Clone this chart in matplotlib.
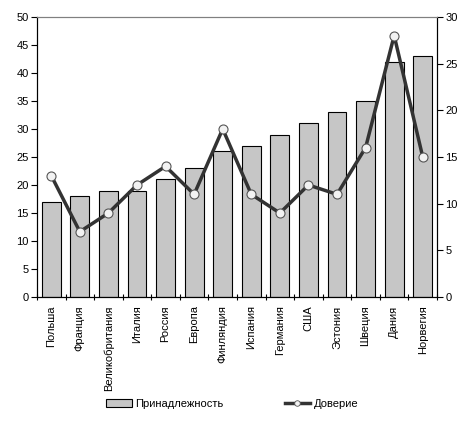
import numpy as np
import matplotlib.pyplot as plt
from matplotlib.patches import Patch
from matplotlib.lines import Line2D

plt.rcParams['font.family'] = ['Liberation Sans', 'DejaVu Sans']
plt.rcParams['font.size'] = 8

# данные
countries = ['Польша', 'Франция', 'Великобритания', 'Италия', 'Россия', 'Европа',
             'Финляндия', 'Испания', 'Германия', 'США', 'Эстония', 'Швеция',
             'Дания', 'Норвегия']
belonging = [17, 18, 19, 19, 21, 23, 26, 27, 29, 31, 33, 35, 42, 43]
trust = [13, 7, 9, 12, 14, 11, 18, 11, 9, 12, 11, 16, 28, 15]

x = np.arange(len(countries))

fig = plt.figure(figsize=(4.74, 4.22), dpi=100)
ax = fig.add_axes([0.078, 0.296, 0.844, 0.664])
ax.bar(x, belonging, width=0.66, color='#c6c6c6', edgecolor='black', linewidth=0.8, zorder=2)
ax.set_xlim(-0.5, len(countries) - 0.5)
ax.set_ylim(0, 50)
ax.set_yticks(range(0, 51, 5))
ax.set_xticks(x)
ax.set_xticklabels(countries, rotation=90)
ax.tick_params(axis='x', length=0, pad=6)
ax.set_xticks(np.arange(-0.5, len(countries), 1), minor=True)
ax.tick_params(axis='x', which='minor', length=4, direction='inout', width=0.8)
ax.tick_params(axis='y', length=4, width=0.8, pad=2)
ax.spines['top'].set_color('#808080')
for s in ['left', 'bottom']:
    ax.spines[s].set_linewidth(0.8)

ax2 = ax.twinx()
ax2.plot(x, trust, color='#333333', linewidth=2.5, marker='o', markersize=6.5,
         markerfacecolor='#f2f2f2', markeredgecolor='#555555', markeredgewidth=0.8, zorder=3)
ax2.set_ylim(0, 30)
ax2.set_yticks(range(0, 31, 5))
ax2.tick_params(axis='y', length=4, width=0.8, pad=2)
ax2.spines['right'].set_linewidth(0.8)
ax2.spines['top'].set_color('#808080')

handles = [Patch(facecolor='#c6c6c6', edgecolor='black', linewidth=0.8),
           Line2D([0], [0], color='#333333', linewidth=2.5, marker='o', markersize=4,
                  markerfacecolor='#f2f2f2', markeredgecolor='#555555', markeredgewidth=0.6)]
fig.legend(handles, ['Принадлежность', 'Доверие'], loc='center', bbox_to_anchor=(0.49, 0.043),
           ncol=2, frameon=False, columnspacing=5.5, handlelength=2.3, handletextpad=0.3)

fig.savefig('out.png', dpi=100)
